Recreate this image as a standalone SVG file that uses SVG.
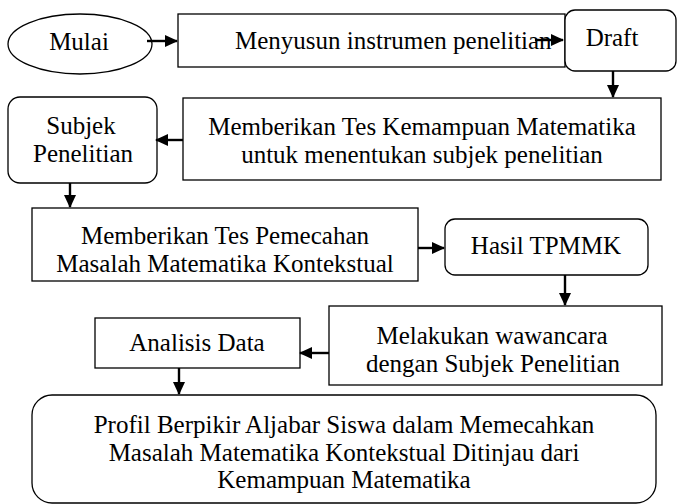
<svg xmlns="http://www.w3.org/2000/svg" width="677" height="504" viewBox="0 0 677 504" font-family="'Liberation Serif', 'Times New Roman', Times, 'DejaVu Serif', serif">
<style>
.b{fill:#fff;stroke:#000;stroke-width:1.3}
.t{font-family:'Liberation Serif','Times New Roman',Times,'DejaVu Serif',serif;font-size:25px;fill:#000;text-anchor:middle}
.c{stroke:#000;stroke-width:2.4;fill:none;marker-end:url(#ah)}
</style>
<defs>
<marker id="ah" markerUnits="userSpaceOnUse" markerWidth="13" markerHeight="13" viewBox="0 0 13 13" refX="12" refY="6.5" orient="auto">
<path d="M0,0.5 L13,6.5 L0,12.5 Z" fill="#000"/>
</marker>
</defs>
<rect width="677" height="504" fill="#fff"/>
<g id="mulai"><ellipse class="b" cx="80" cy="44" rx="72" ry="30"/><text class="t" x="79" y="50">Mulai</text></g>
<g id="menyusun"><rect class="b" x="178" y="14" width="387" height="53"/><text class="t" x="235" y="49" style="text-anchor:start">Menyusun instrumen penelitian</text></g>
<g id="draft"><rect class="b" x="565" y="10" width="111" height="61" rx="10"/><text class="t" x="612" y="46">Draft</text></g>
<g id="tes-kemampuan"><rect class="b" x="183" y="98" width="478" height="82"/><text class="t" x="422" y="135">Memberikan Tes Kemampuan Matematika</text><text class="t" x="422" y="163">untuk menentukan subjek penelitian</text></g>
<g id="subjek"><rect class="b" x="8" y="97" width="149" height="86" rx="12"/><text class="t" x="81" y="134">Subjek</text><text class="t" x="83" y="162">Penelitian</text></g>
<g id="tes-pemecahan"><rect class="b" x="32" y="208" width="386" height="73"/><text class="t" x="225" y="244">Memberikan Tes Pemecahan</text><text class="t" x="225" y="272">Masalah Matematika Kontekstual</text></g>
<g id="hasil"><rect class="b" x="445" y="219" width="203" height="56" rx="10"/><text class="t" x="546" y="254">Hasil TPMMK</text></g>
<g id="wawancara"><rect class="b" x="329" y="306" width="333" height="79"/><text class="t" x="492" y="344">Melakukan wawancara</text><text class="t" x="493" y="372">dengan Subjek Penelitian</text></g>
<g id="analisis"><rect class="b" x="95" y="318" width="205" height="50"/><text class="t" x="197" y="351">Analisis Data</text></g>
<g id="profil"><rect class="b" x="32" y="395" width="624" height="108" rx="20"/><text class="t" x="344" y="433">Profil Berpikir Aljabar Siswa dalam Memecahkan</text><text class="t" x="344" y="461">Masalah Matematika Kontekstual Ditinjau dari</text><text class="t" x="344" y="488">Kemampuan Matematika</text></g>
<g id="connectors">
<path class="c" d="M147,41 H177"/>
<path class="c" d="M535,40 H563"/>
<path class="c" d="M613,71 V97"/>
<path class="c" d="M183,140 H156"/>
<path class="c" d="M70,183 V207"/>
<path class="c" d="M418,248 H444"/>
<path class="c" d="M565,275 V305"/>
<path class="c" d="M329,353 H300"/>
<path class="c" d="M179,368 V394"/>
</g>
</svg>
